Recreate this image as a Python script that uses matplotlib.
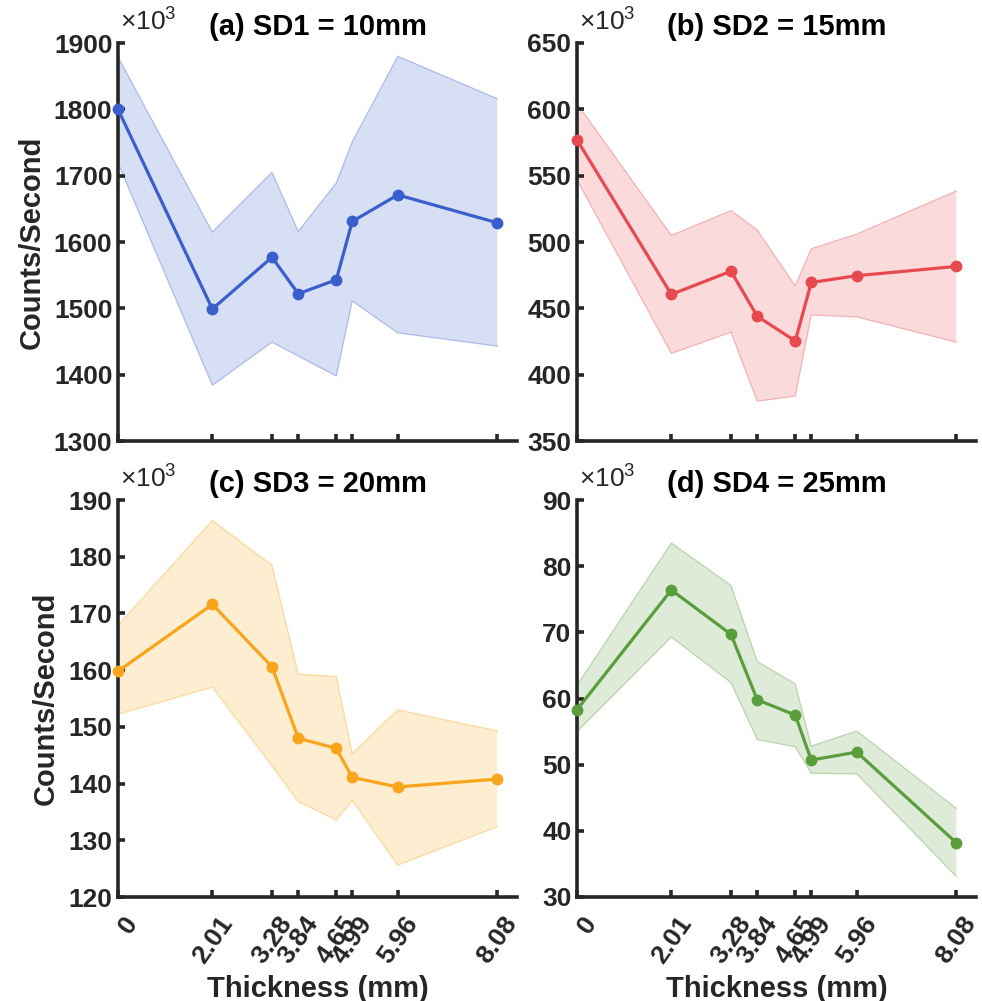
import matplotlib
matplotlib.use("Agg")
import matplotlib.pyplot as plt
import matplotlib.transforms as mtransforms
import numpy as np

plt.rcParams['font.family'] = ['Liberation Sans', 'DejaVu Sans']
plt.rcParams['mathtext.fontset'] = 'custom'
plt.rcParams['mathtext.rm'] = 'Liberation Sans'
plt.rcParams['mathtext.it'] = 'Liberation Sans:italic'
plt.rcParams['mathtext.bf'] = 'Liberation Sans:bold'

# Thickness values (mm)
thickness = [0, 2.01, 3.28, 3.84, 4.65, 4.99, 5.96, 8.08]
tick_labels = ['0', '2.01', '3.28', '3.84', '4.65', '4.99', '5.96', '8.08']

# Counts/Second (x10^3): mean, upper and lower band
sd1_mean = [1800, 1499, 1577, 1522, 1543, 1631, 1671, 1629]
sd1_upper = [1879, 1615, 1705, 1616, 1689, 1751, 1880, 1816]
sd1_lower = [1719, 1384, 1449, 1428, 1398, 1511, 1463, 1443]

sd2_mean = [577, 460.5, 478, 444, 425.4, 469.5, 474.6, 481.6]
sd2_upper = [604.4, 505, 523.7, 509, 467, 494.9, 506, 538.5]
sd2_lower = [546.7, 416, 432, 380, 383.8, 445, 443.5, 424.5]

sd3_mean = [159.8, 171.6, 160.6, 148, 146.2, 141.1, 139.4, 140.8]
sd3_upper = [167.9, 186.4, 178.5, 159.3, 158.9, 145.3, 153, 149.3]
sd3_lower = [152.2, 157, 143.1, 136.8, 133.6, 137, 125.6, 132.4]

sd4_mean = [58.3, 76.4, 69.7, 59.8, 57.5, 50.7, 51.9, 38.2]
sd4_upper = [62, 83.5, 77.1, 65.6, 62.2, 52.8, 55.1, 43.4]
sd4_lower = [55, 69.3, 62.4, 53.8, 52.7, 48.7, 48.6, 33.1]

titles = ['(a) SD1 = 10mm', '(b) SD2 = 15mm', '(c) SD3 = 20mm', '(d) SD4 = 25mm']
means = [sd1_mean, sd2_mean, sd3_mean, sd4_mean]
uppers = [sd1_upper, sd2_upper, sd3_upper, sd4_upper]
lowers = [sd1_lower, sd2_lower, sd3_lower, sd4_lower]
colors = ['#3A5FCD', '#E64A4F', '#F8A51B', '#5A9E3C']
ylims = [(1300, 1900), (350, 650), (120, 190), (30, 90)]
ysteps = [100, 50, 10, 10]

W, H = 982, 1001
fig = plt.figure(figsize=(W / 100, H / 100), dpi=100)

# axes rectangles in pixels: left, top, right, bottom
rects = [(118, 43, 517, 441), (577, 43, 976, 441),
         (118, 500, 517, 897), (577, 500, 976, 897)]

axc = '#262626'
for i in range(4):
    l, t, r, b = rects[i]
    ax = fig.add_axes([l / W, 1 - b / H, (r - l) / W, (b - t) / H])
    c = colors[i]
    ax.fill_between(thickness, lowers[i], uppers[i], facecolor=c, alpha=0.2,
                    edgecolor='none', zorder=1)
    ax.plot(thickness, uppers[i], color=c, alpha=0.35, lw=0.9, zorder=1.5)
    ax.plot(thickness, lowers[i], color=c, alpha=0.35, lw=0.9, zorder=1.5)
    ax.plot(thickness, means[i], color=c, lw=2.3, marker='o', ms=7.5,
            zorder=3, clip_on=False)
    ax.set_xlim(0, 8.5)
    ax.set_ylim(*ylims[i])
    y0, y1 = ylims[i]
    ax.set_yticks(np.arange(y0, y1 + 0.1, ysteps[i]))
    ax.set_xticks(thickness)
    for s in ['top', 'right']:
        ax.spines[s].set_visible(False)
    for s in ['left', 'bottom']:
        ax.spines[s].set_linewidth(2.6)
        ax.spines[s].set_color(axc)
        ax.spines[s].set_capstyle('projecting')
    ax.tick_params(direction='in', length=5, width=2.6, color=axc,
                   labelsize=19, labelcolor=axc, pad=4)
    for lab in ax.get_yticklabels():
        lab.set_fontweight('bold')
    if i >= 2:
        ax.set_xticklabels(tick_labels, rotation=55, ha='right', va='center',
                           rotation_mode='anchor', fontweight='bold')
        offset = mtransforms.ScaledTranslation(15 / 100, -16 / 100, fig.dpi_scale_trans)
        for lab in ax.get_xticklabels():
            lab.set_transform(lab.get_transform() + offset)
        ax.set_xlabel('Thickness (mm)', fontsize=21, fontweight='bold',
                      color=axc, labelpad=5)
    else:
        ax.set_xticklabels([])
    if i % 2 == 0:
        ax.set_ylabel('Counts/Second', fontsize=21, fontweight='bold',
                      color=axc, labelpad=6)
    ax.set_title(titles[i], fontsize=21, fontweight='bold', pad=6, color='black')
    ax.annotate('×10$^{3}$', xy=(0, 1), xycoords='axes fraction',
                xytext=(1.5, 9), textcoords='offset points',
                fontsize=19, ha='left', va='baseline', color=axc)

fig.savefig('out.png', dpi=100)
